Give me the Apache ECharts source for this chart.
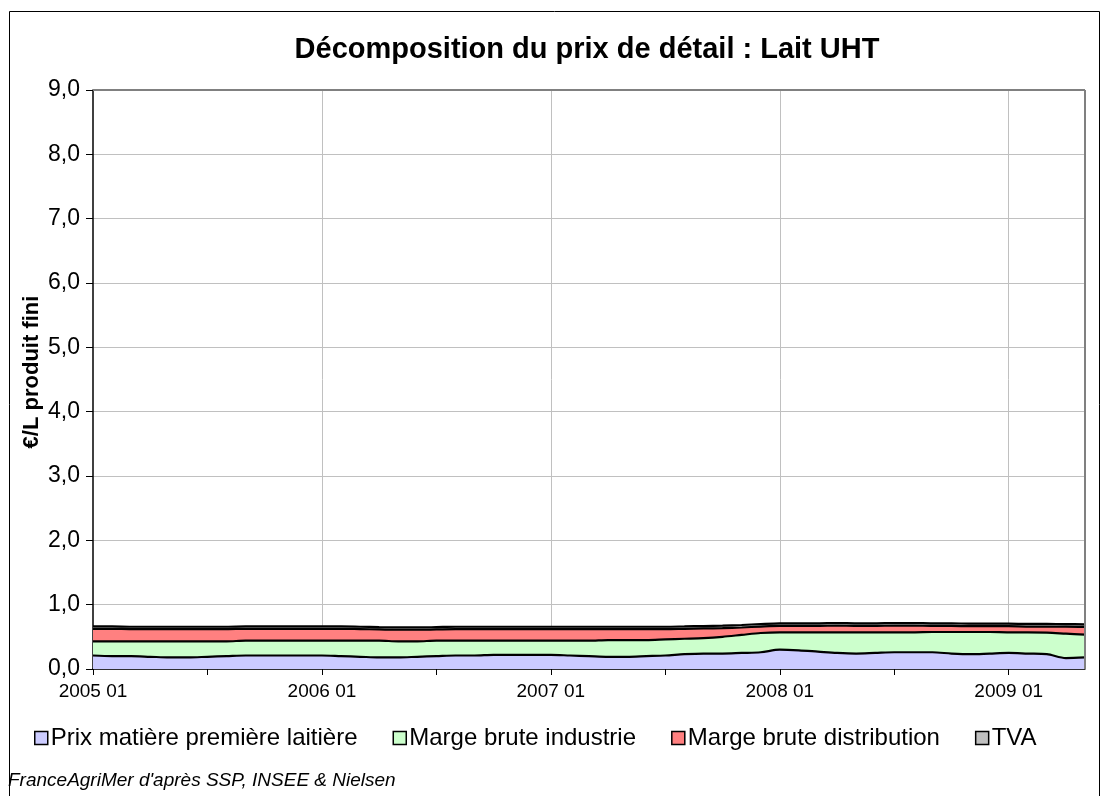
<!DOCTYPE html>
<html>
<head>
<meta charset="utf-8">
<title>Lait UHT</title>
<script src="https://cdn.jsdelivr.net/npm/echarts@6/dist/echarts.min.js"></script>
<style>
  html, body { margin: 0; padding: 0; background: #fff; }
  #chart { width: 1109px; height: 796px; }
</style>
</head>
<body>
<div id="chart"></div>
<script>
// mois 2005 01 -> 2009 05
const months = []
for (let y = 2005; y <= 2009; y++) {
  for (let m = 1; m <= 12; m++) {
    if (y === 2009 && m > 5) break
    months.push(y + ' ' + (m < 10 ? '0' + m : m))
  }
}

const seriesNames = ['Prix matière première laitière', 'Marge brute industrie', 'Marge brute distribution', 'TVA']
const seriesColors = ['#ccccff', '#ccffcc', '#ff8080', '#c0c0c0']

// €/L, valeurs
const matiere = [
  0.21, 0.20, 0.20, 0.19, 0.18, 0.18, 0.19, 0.20, 0.21, 0.21, 0.21, 0.21,
  0.21, 0.20, 0.19, 0.18, 0.18, 0.19, 0.20, 0.21, 0.21, 0.22, 0.22, 0.22,
  0.22, 0.21, 0.20, 0.19, 0.19, 0.20, 0.21, 0.23, 0.24, 0.24, 0.25, 0.26,
  0.30, 0.29, 0.27, 0.25, 0.24, 0.25, 0.26, 0.26, 0.26, 0.24, 0.23, 0.24,
  0.25, 0.24, 0.23, 0.17, 0.18
]
const margeIndustrie = [
  0.22, 0.23, 0.23, 0.24, 0.25, 0.25, 0.24, 0.23, 0.23, 0.23, 0.23, 0.23,
  0.23, 0.24, 0.25, 0.26, 0.25, 0.24, 0.24, 0.23, 0.23, 0.22, 0.22, 0.22,
  0.22, 0.23, 0.24, 0.26, 0.26, 0.25, 0.25, 0.24, 0.24, 0.26, 0.28, 0.30,
  0.27, 0.28, 0.30, 0.32, 0.33, 0.32, 0.31, 0.31, 0.315, 0.335, 0.345, 0.335,
  0.32, 0.33, 0.335, 0.38, 0.355
]
const margeDistribution = [
  0.195, 0.195, 0.19, 0.19, 0.19, 0.19, 0.19, 0.19, 0.185, 0.185, 0.185, 0.185,
  0.185, 0.185, 0.18, 0.175, 0.18, 0.18, 0.175, 0.18, 0.18, 0.18, 0.18, 0.18,
  0.18, 0.18, 0.18, 0.17, 0.17, 0.17, 0.16, 0.155, 0.15, 0.135, 0.115, 0.10,
  0.10, 0.10, 0.10, 0.105, 0.10, 0.10, 0.105, 0.105, 0.095, 0.095, 0.09, 0.09,
  0.095, 0.09, 0.095, 0.11, 0.12
]
const tva = [
  0.037, 0.037, 0.037, 0.037, 0.037, 0.037, 0.037, 0.037, 0.037, 0.037, 0.037, 0.037,
  0.037, 0.037, 0.037, 0.036, 0.036, 0.036, 0.036, 0.037, 0.037, 0.037, 0.037, 0.037,
  0.037, 0.037, 0.037, 0.037, 0.037, 0.037, 0.037, 0.037, 0.038, 0.038, 0.039, 0.039,
  0.040, 0.040, 0.040, 0.040, 0.040, 0.040, 0.040, 0.040, 0.040, 0.040, 0.040, 0.040,
  0.040, 0.040, 0.040, 0.039, 0.039
]

const font = '"Liberation Sans", Arial, sans-serif'
const chart = echarts.init(document.getElementById('chart'))

function areaSeries(name, data, color) {
  return {
    name: name,
    type: 'line',
    stack: 'prix',
    data: data,
    smooth: 0.3,
    showSymbol: false,
    symbol: 'none',
    itemStyle: { color: color, borderColor: '#000', borderWidth: 1.5 },
    lineStyle: { color: '#000', width: 2.2 },
    areaStyle: { color: color, opacity: 1 },
    emphasis: { disabled: true }
  }
}

const option = {
  animation: false,
  backgroundColor: '#fff',
  textStyle: { fontFamily: font },
  title: {
    text: 'Décomposition du prix de détail : Lait UHT',
    left: 582,
    textAlign: 'center',
    top: 30,
    textStyle: { fontFamily: font, fontSize: 29, fontWeight: 'bold', color: '#000' }
  },
  grid: { left: 93, right: 24, top: 90, bottom: 127, containLabel: false },
  legend: {
    data: seriesNames,
    left: 29,
    top: 721,
    icon: 'rect',
    itemWidth: 13,
    itemHeight: 13,
    itemGap: 35,
    itemStyle: { borderColor: '#000', borderWidth: 1.5 },
    textStyle: { fontFamily: font, fontSize: 24, color: '#000', padding: [0, 0, 0, -2] }
  },
  xAxis: {
    type: 'category',
    data: months,
    boundaryGap: false,
    axisLine: { lineStyle: { color: '#000', width: 1.5 } },
    axisTick: { show: true, interval: 5, length: 6, lineStyle: { color: '#000' } },
    axisLabel: {
      interval: 11,
      margin: 13,
      fontFamily: font,
      fontSize: 19,
      color: '#000'
    },
    splitLine: {
      show: true,
      interval: function (i) { return i > 0 && i % 12 === 0 },
      lineStyle: { color: '#c0c0c0', width: 1 }
    }
  },
  yAxis: {
    type: 'value',
    min: 0,
    max: 9,
    interval: 1,
    axisLine: { show: true, lineStyle: { color: '#000', width: 1.5 } },
    axisTick: { show: true, length: 7, lineStyle: { color: '#000' } },
    axisLabel: {
      margin: 13,
      fontFamily: font,
      fontSize: 23,
      color: '#000',
      formatter: function (v) { return v.toFixed(1).replace('.', ',') }
    },
    splitLine: { show: true, lineStyle: { color: '#c0c0c0', width: 1 } }
  },
  graphic: [
    {
      type: 'rect',
      shape: { x: 9.5, y: 11.5, width: 1090, height: 790 },
      style: { fill: null, stroke: '#000', lineWidth: 1 },
      silent: true
    },
    {
      type: 'line',
      shape: { x1: 93, y1: 90, x2: 1085, y2: 90 },
      style: { stroke: '#808080', lineWidth: 2 },
      z: 10,
      silent: true
    },
    {
      type: 'line',
      shape: { x1: 1085, y1: 90, x2: 1085, y2: 669 },
      style: { stroke: '#808080', lineWidth: 2 },
      z: 10,
      silent: true
    },
    {
      // titre de l'axe Y
      type: 'text',
      x: 32,
      y: 372,
      rotation: Math.PI / 2,
      style: {
        text: '€/L produit fini',
        fontFamily: font,
        fontSize: 22,
        fontWeight: 'bold',
        fill: '#000',
        align: 'center',
        verticalAlign: 'middle'
      }
    },
    {
      type: 'text',
      left: 8,
      top: 771,
      style: {
        text: "FranceAgriMer d'après SSP, INSEE & Nielsen",
        fontFamily: font,
        fontSize: 19,
        fontStyle: 'italic',
        fill: '#000'
      }
    }
  ],
  series: [
    areaSeries(seriesNames[0], matiere, seriesColors[0]),
    areaSeries(seriesNames[1], margeIndustrie, seriesColors[1]),
    areaSeries(seriesNames[2], margeDistribution, seriesColors[2]),
    areaSeries(seriesNames[3], tva, seriesColors[3])
  ]
}

chart.setOption(option)
window.addEventListener('resize', () => {
  chart.resize()
})
</script>
</body>
</html>
